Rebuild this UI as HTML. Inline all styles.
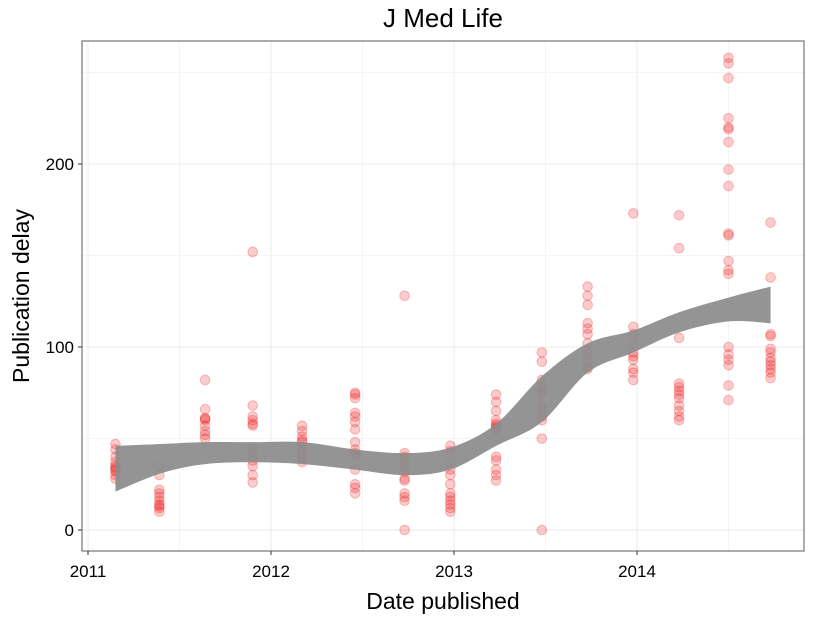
<!DOCTYPE html>
<html><head><meta charset="utf-8"><style>
body{margin:0;background:#fff;font-family:"Liberation Sans",sans-serif;}
svg text{font-family:"Liberation Sans",sans-serif;}
</style></head><body>
<svg id="c" width="825" height="618" xmlns="http://www.w3.org/2000/svg"></svg>
<script>
const xTicks=[2011,2012,2013,2014];
const xTickLabels=["2011","2012","2013","2014"];
const yTicks=[0,100,200];
const yTickLabels=["0","100","200"];
const dates=[2011.15,2011.39,2011.64,2011.9,2012.17,2012.46,2012.73,2012.98,2013.23,2013.48,2013.73,2013.98,2014.23,2014.5,2014.73];
const delays=[
[47,44,40,37,35,34,33,32,30,28],
[35,30,22,20,18,16,14,13,12,10],
[82,66,61,61,60,57,54,52,50],
[152,68,62,60,58,57,45,43,40,38,35,30,26],
[57,54,51,49,48,45,43,41,39,37],
[75,74,72,64,62,59,55,48,44,42,41,33,25,23,20],
[128,42,40,38,35,32,28,27,20,18,16,0],
[46,43,37,33,30,25,20,18,16,14,12,10],
[74,70,65,60,58,57,56,55,51,40,38,33,30,27],
[97,92,82,78,76,74,68,66,62,60,50,0],
[133,128,123,113,110,107,102,98,96,92,89,88],
[173,111,107,102,97,95,93,88,86,82],
[172,154,105,80,78,76,74,72,68,65,62,60],
[258,255,247,225,220,219,212,197,188,162,161,147,142,140,100,96,93,90,79,71],
[168,138,107,106,99,97,94,92,90,88,86,83]];
const bandDates=[2011.15,2011.4,2011.64,2011.9,2012.17,2012.46,2012.73,2012.98,2013.23,2013.48,2013.73,2013.98,2014.23,2014.5,2014.73];
const bandUpper=[46,47,48,48,48,44,42,45,58,84,102,109,119,127,133];
const bandLower=[21,31,36,37,36,33,30,33,46,59,86,97,108,114,113];

const NS="http://www.w3.org/2000/svg";
const svg=document.getElementById('c');
const L=82,R=804,T=41,B=551;
const xs=t=>88+(t-2011)*183;
const ys=v=>530-v*1.83;
function mk(tag,attrs,parent){const e=document.createElementNS(NS,tag);for(const k in attrs)e.setAttribute(k,attrs[k]);(parent||svg).appendChild(e);return e;}
mk('rect',{x:L,y:T,width:R-L,height:B-T,fill:'#fff'});
const grid=mk('g',{});


for(let i=0;i<xTicks.length;i++){
  mk('line',{x1:xs(xTicks[i]),x2:xs(xTicks[i]),y1:T,y2:B,stroke:'#ebebeb','stroke-width':1},grid);
  mk('line',{x1:xs(xTicks[i]+0.5),x2:xs(xTicks[i]+0.5),y1:T,y2:B,stroke:'#f4f4f4','stroke-width':1},grid);
}
for(let i=0;i<yTicks.length;i++){
  mk('line',{x1:L,x2:R,y1:ys(yTicks[i]),y2:ys(yTicks[i]),stroke:'#ebebeb','stroke-width':1},grid);
  mk('line',{x1:L,x2:R,y1:ys(yTicks[i]+50),y2:ys(yTicks[i]+50),stroke:'#f4f4f4','stroke-width':1},grid);
}
const pts=mk('g',{});


for(let i=0;i<dates.length;i++){
  for(const v of delays[i]){
    const c=mk('circle',{cx:xs(dates[i]),cy:ys(v),r:4.8,fill:'rgba(240,0,0,0.2)',stroke:'rgba(230,0,0,0.25)','stroke-width':1},pts);
    
    
  }
}
function smooth(px,py){let d='';for(let i=0;i<px.length;i++){
  if(i===0){d+=`${px[i]},${py[i]}`;continue;}
  const p0=i>1?i-2:i-1,p1=i-1,p2=i,p3=i<px.length-1?i+1:i;
  const c1x=px[p1]+(px[p2]-px[p0])/6,c1y=py[p1]+(py[p2]-py[p0])/6;
  const c2x=px[p2]-(px[p3]-px[p1])/6,c2y=py[p2]-(py[p3]-py[p1])/6;
  d+=` C${c1x},${c1y} ${c2x},${c2y} ${px[p2]},${py[p2]}`;}
  return d;}
const bx=bandDates.map(xs);
const up=smooth(bx,bandUpper.map(ys));
const rbx=bx.slice().reverse(),rlo=bandLower.map(ys).reverse();
const lo=smooth(rbx,rlo);
const band=mk('path',{d:'M'+up+' L'+lo+' Z',fill:'#8c8c8c','fill-opacity':0.93});


mk('rect',{x:L,y:T,width:R-L,height:B-T,fill:'none',stroke:'#7f7f7f','stroke-width':1.3});
for(let i=0;i<yTicks.length;i++){
  mk('line',{x1:L-4,x2:L,y1:ys(yTicks[i]),y2:ys(yTicks[i]),stroke:'#333'});
  const t=mk('text',{x:L-8,y:ys(yTicks[i])+6,'text-anchor':'end','font-size':17,fill:'#000'});t.textContent=yTickLabels[i];
  
  
}
for(let i=0;i<xTicks.length;i++){
  mk('line',{x1:xs(xTicks[i]),x2:xs(xTicks[i]),y1:B,y2:B+4,stroke:'#333'});
  const t=mk('text',{x:xs(xTicks[i]),y:B+26,'text-anchor':'middle','font-size':17,fill:'#000'});t.textContent=xTickLabels[i];
  
  
}
const title=mk('text',{x:443,y:27,'text-anchor':'middle','font-size':26,fill:'#000'});title.textContent='J Med Life';


const xl=mk('text',{x:443,y:609,'text-anchor':'middle','font-size':23,fill:'#000'});xl.textContent='Date published';


const yl=mk('text',{x:0,y:0,'text-anchor':'middle','font-size':23,fill:'#000',transform:'translate(29,296) rotate(-90)'});yl.textContent='Publication delay';


</script>
</body></html>
